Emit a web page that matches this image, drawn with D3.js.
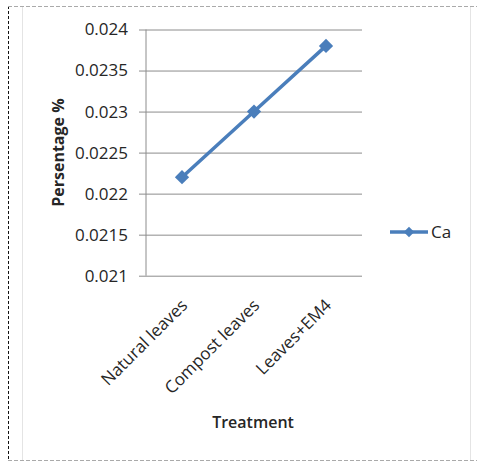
<!DOCTYPE html>
<meta charset="utf-8">
<head>
<script src="https://cdn.jsdelivr.net/npm/d3@7/dist/d3.min.js"></script>
</head>
<style>
body { margin: 0; background: #fff; }
text { font-family: "Open Sans", "Liberation Sans", sans-serif; fill: #262626; }
</style>
<body></body>
<script>
var categories = ["Natural leaves", "Compost leaves", "Leaves+EM4"];
var caValues = [0.0222, 0.0230, 0.0238];
var yTicks = [0.021, 0.0215, 0.022, 0.0225, 0.023, 0.0235, 0.024];
var seriesName = "Ca";

var width = 477, height = 462;
var plot = {left: 146, right: 362, top: 29.5, bottom: 275.7};
var blue = "#4a7ebb";

var svg = d3.select("body").append("svg")
    .attr("width", width)
    .attr("height", height);

// outer frame
svg.append("line").attr("x1", 8.5).attr("x2", 8.5).attr("y1", 6).attr("y2", 461)
    .attr("stroke", "#111").attr("stroke-dasharray", "3,2");
svg.append("line").attr("x1", 8).attr("x2", 477).attr("y1", 6.5).attr("y2", 6.5)
    .attr("stroke", "#aaa").attr("stroke-dasharray", "4,2");
svg.append("line").attr("x1", 8).attr("x2", 477).attr("y1", 460.5).attr("y2", 460.5)
    .attr("stroke", "#aaa").attr("stroke-dasharray", "4,2");
svg.append("line").attr("x1", 22.5).attr("x2", 22.5).attr("y1", 7).attr("y2", 460)
    .attr("stroke", "#e4e4e4");
svg.append("line").attr("x1", 470.5).attr("x2", 470.5).attr("y1", 7).attr("y2", 460)
    .attr("stroke", "#e4e4e4");

var x = d3.scaleBand().domain(categories).range([plot.left, plot.right]);
var y = d3.scaleLinear().domain([0.021, 0.024]).range([plot.bottom, plot.top]);

// gridlines + y ticks
var yAxis = d3.axisLeft(y).tickValues(yTicks).tickSize(-(plot.right - plot.left))
    .tickFormat(function(d) { return String(+d.toFixed(4)); });
var gy = svg.append("g").attr("transform", "translate(" + plot.left + ",0)").call(yAxis);
gy.select(".domain").remove();
gy.selectAll(".tick line").attr("stroke", "#8c8c8c").attr("x1", -7);
gy.selectAll(".tick text").style("font-size", "17px").attr("fill", "#444")
    .attr("x", -18);
svg.append("line").attr("x1", plot.left).attr("x2", plot.left)
    .attr("y1", plot.top).attr("y2", plot.bottom).attr("stroke", "#8c8c8c");

// x labels
svg.selectAll(".xlab").data(categories).enter().append("text")
    .attr("class", "xlab")
    .attr("transform", function(d) {
      return "translate(" + (x(d) + x.bandwidth() / 2 - 2) + ",298) rotate(-45)";
    })
    .attr("text-anchor", "end")
    .attr("dy", "0.7em")
    .style("font-size", "17px")
    .attr("fill", "#444")
    .text(function(d) { return d; });

// axis titles
svg.append("text")
    .attr("transform", "translate(64," + ((plot.top + plot.bottom) / 2) + ") rotate(-90)")
    .attr("text-anchor", "middle")
    .style("font-size", "16px").style("font-weight", "bold")
    .text("Persentage %");
svg.append("text")
    .attr("x", (plot.left + plot.right) / 2 - 1).attr("y", 428)
    .attr("text-anchor", "middle")
    .style("font-size", "16px").style("font-weight", "600")
    .text("Treatment");

// series
var line = d3.line()
    .x(function(d, i) { return x(categories[i]) + x.bandwidth() / 2; })
    .y(function(d) { return y(d); });
svg.append("path").datum(caValues)
    .attr("d", line).attr("fill", "none")
    .attr("stroke", blue).attr("stroke-width", 3.5);
var diamond = d3.symbol().type(d3.symbolDiamond2).size(130);
svg.selectAll(".pt").data(caValues).enter().append("path")
    .attr("class", "pt")
    .attr("d", diamond)
    .attr("transform", function(d, i) {
      return "translate(" + (x(categories[i]) + x.bandwidth() / 2) + "," + y(d) + ")";
    })
    .attr("fill", blue);

// legend
var lg = svg.append("g").attr("transform", "translate(390,232)");
lg.append("line").attr("x1", 0).attr("x2", 38).attr("stroke", blue).attr("stroke-width", 3.5);
lg.append("path").attr("d", d3.symbol().type(d3.symbolDiamond2).size(70))
    .attr("transform", "translate(19,0)").attr("fill", blue);
lg.append("text").attr("x", 41).attr("dy", "0.36em")
    .style("font-size", "17px").attr("fill", "#444").text(seriesName);
</script>
